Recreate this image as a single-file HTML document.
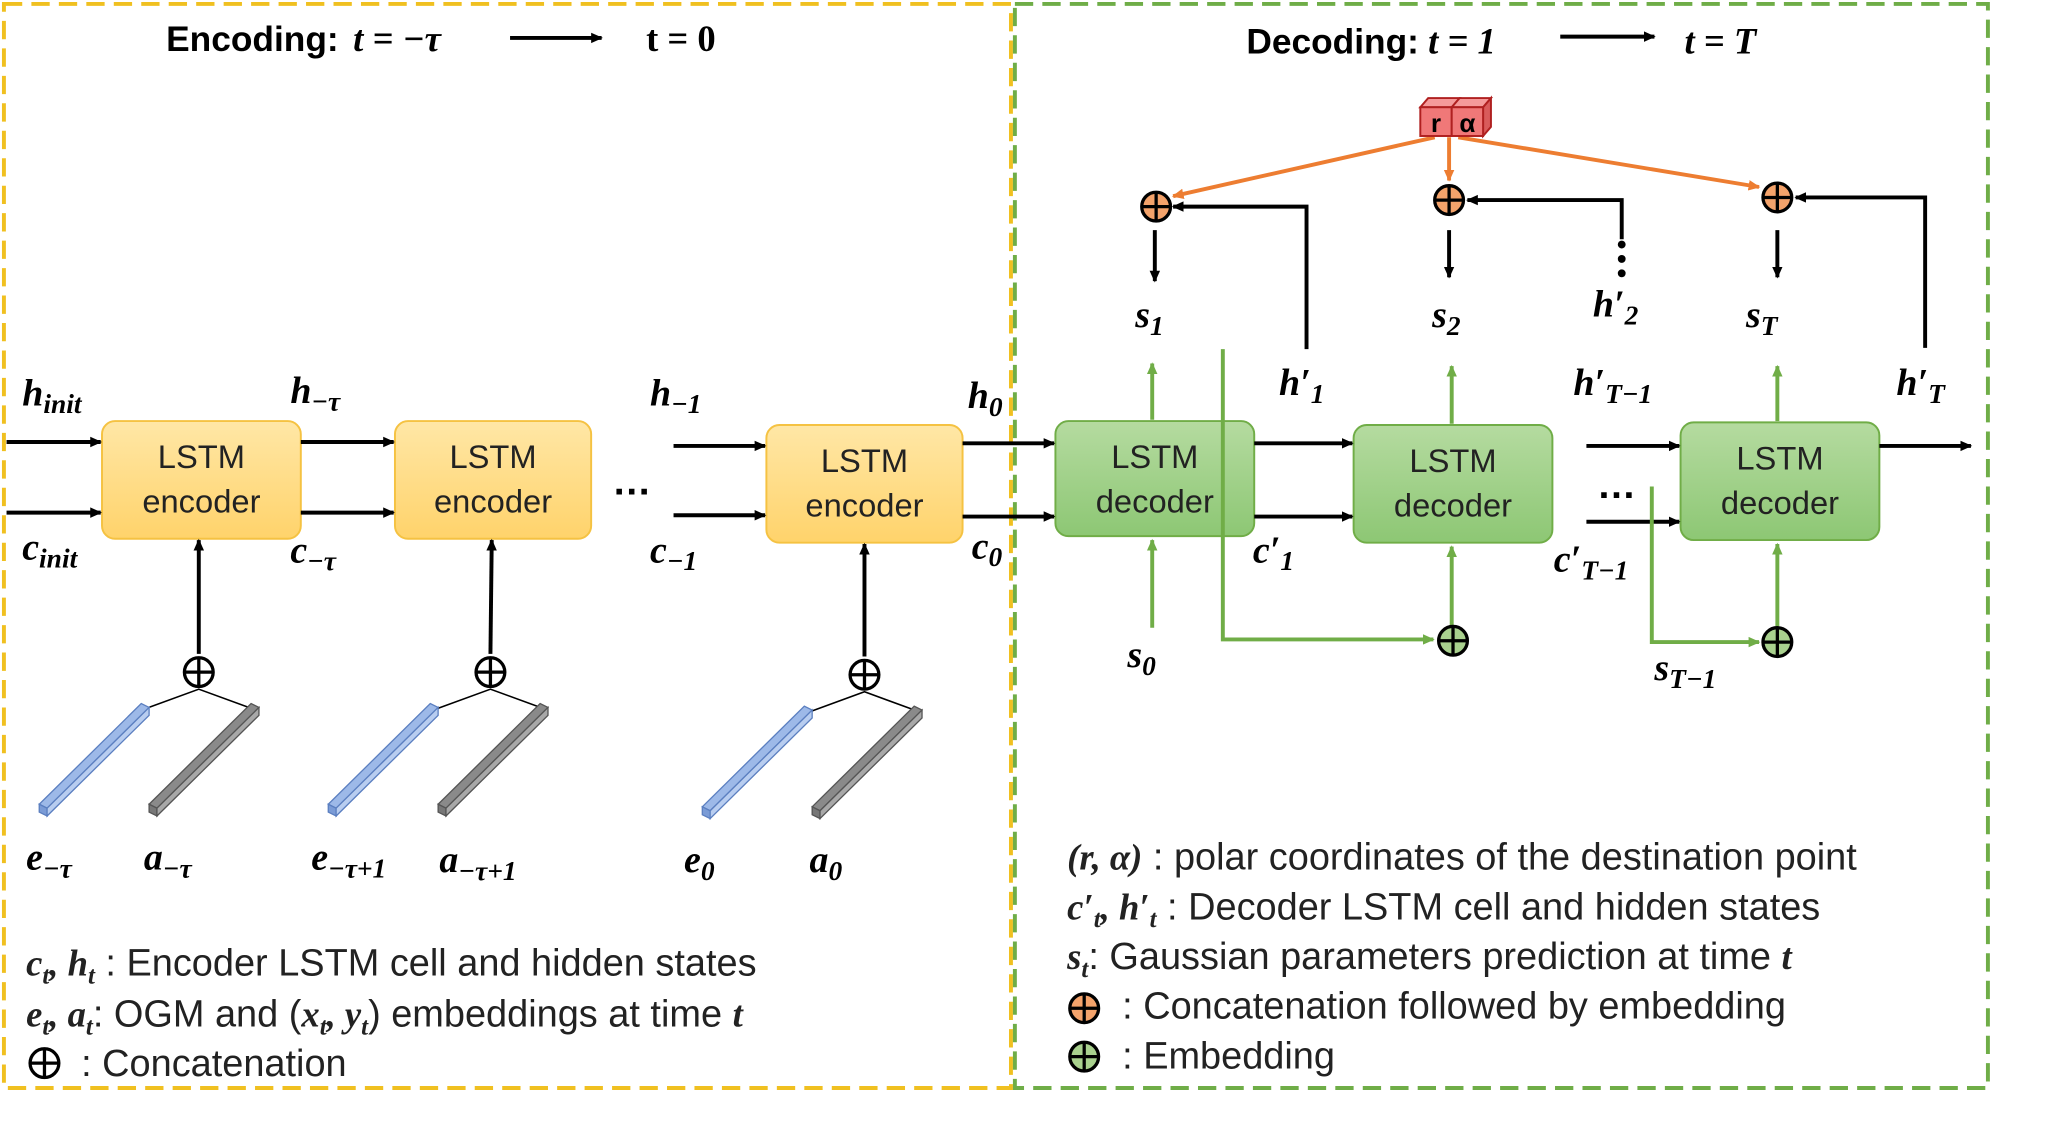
<!DOCTYPE html>
<html><head><meta charset="utf-8"><style>
html,body{margin:0;padding:0;background:#fff;}
svg{display:block;}
text{font-family:"Liberation Sans",sans-serif;}
.m,.m text,.m tspan,tspan.m{font-family:"Liberation Serif",serif;font-weight:bold;font-style:italic;}
.b{font-size:29px;fill:#222;}
</style></head><body>
<svg width="2052" height="1139" viewBox="0 0 1569 871" preserveAspectRatio="none" xmlns="http://www.w3.org/2000/svg">
<defs>
<marker id="ak" markerWidth="10" markerHeight="10" refX="8" refY="5" orient="auto" markerUnits="userSpaceOnUse"><path d="M0,1 L9,5 L0,9z" fill="#000"/></marker>
<marker id="ag" markerWidth="10" markerHeight="10" refX="8" refY="5" orient="auto" markerUnits="userSpaceOnUse"><path d="M0,1 L9,5 L0,9z" fill="#70AD47"/></marker>
<marker id="ao" markerWidth="10" markerHeight="10" refX="8" refY="5" orient="auto" markerUnits="userSpaceOnUse"><path d="M0,1 L9,5 L0,9z" fill="#ED7D31"/></marker>
<linearGradient id="gy" x1="0" y1="0" x2="0" y2="1"><stop offset="0" stop-color="#FFE7A6"/><stop offset="1" stop-color="#FFD36B"/></linearGradient>
<linearGradient id="gg" x1="0" y1="0" x2="0" y2="1"><stop offset="0" stop-color="#B5DBA0"/><stop offset="1" stop-color="#8DC774"/></linearGradient>
<g id="bb"><polygon points="30,615 108,538 114,541 36,618" fill="#9DB9E8" stroke="#5B7FC0"/><polygon points="30,615 36,618 36,624 30,621" fill="#7A9BD6" stroke="#5B7FC0"/><polygon points="36,618 114,541 114,547 36,624" fill="#B8CDF0" stroke="#5B7FC0"/></g>
<g id="gb"><polygon points="30,615 108,538 114,541 36,618" fill="#8A8A8A" stroke="#555"/><polygon points="30,615 36,618 36,624 30,621" fill="#777" stroke="#555"/><polygon points="36,618 114,541 114,547 36,624" fill="#A8A8A8" stroke="#555"/></g>
<g id="pk"><circle r="11" fill="#fff" stroke="#000" stroke-width="2.5"/><path d="M-11,0H11M0,-11V11" stroke="#000" stroke-width="2.5"/></g>
<g id="po"><circle r="11" fill="#F4A36B" stroke="#000" stroke-width="2.5"/><path d="M-11,0H11M0,-11V11" stroke="#000" stroke-width="2.5"/></g>
<g id="pg"><circle r="11" fill="#A9D18E" stroke="#000" stroke-width="2.5"/><path d="M-11,0H11M0,-11V11" stroke="#000" stroke-width="2.5"/></g>
</defs>
<rect x="3" y="3" width="770" height="829" fill="none" stroke="#F0C020" stroke-width="3" stroke-dasharray="14,7"/>
<rect x="776" y="3" width="744" height="829" fill="none" stroke="#6FAD47" stroke-width="3" stroke-dasharray="14,7"/>
<text x="127" y="39" font-size="27" font-weight="bold">Encoding:</text>
<text x="270" y="39" font-size="28" class="m">t = −τ</text>
<line x1="390" y1="29" x2="460" y2="29" stroke="#000" stroke-width="3" marker-end="url(#ak)"/>
<text x="494" y="39" font-size="28" class="m" style="font-style:normal">t = 0</text>
<text x="953" y="41" font-size="27" font-weight="bold">Decoding:</text>
<text x="1092" y="41" font-size="28" class="m">t = 1</text>
<line x1="1193" y1="28" x2="1265" y2="28" stroke="#000" stroke-width="3" marker-end="url(#ak)"/>
<text x="1288" y="41" font-size="28" class="m">t = T</text>
<g stroke="#F5C242" stroke-width="1.5" fill="url(#gy)">
<rect x="78" y="322" width="152" height="90" rx="10"/><rect x="302" y="322" width="150" height="90" rx="10"/><rect x="586" y="325" width="150" height="90" rx="10"/></g>
<g font-size="25" text-anchor="middle" fill="#222">
<text x="154" y="358">LSTM</text><text x="154" y="392">encoder</text>
<text x="377" y="358">LSTM</text><text x="377" y="392">encoder</text>
<text x="661" y="361">LSTM</text><text x="661" y="395">encoder</text></g>
<g stroke="#70AD47" stroke-width="1.5" fill="url(#gg)">
<rect x="807" y="322" width="152" height="88" rx="10"/><rect x="1035" y="325" width="152" height="90" rx="10"/><rect x="1285" y="323" width="152" height="90" rx="10"/></g>
<g font-size="25" text-anchor="middle" fill="#222">
<text x="883" y="358">LSTM</text><text x="883" y="392">decoder</text>
<text x="1111" y="361">LSTM</text><text x="1111" y="395">decoder</text>
<text x="1361" y="359">LSTM</text><text x="1361" y="393">decoder</text></g>
<g stroke="#000" stroke-width="3" marker-end="url(#ak)">
<line x1="5" y1="338" x2="77" y2="338"/><line x1="5" y1="392" x2="77" y2="392"/>
<line x1="230" y1="338" x2="301" y2="338"/><line x1="230" y1="392" x2="301" y2="392"/>
<line x1="515" y1="341" x2="585" y2="341"/><line x1="515" y1="394" x2="585" y2="394"/>
<line x1="736" y1="339" x2="806" y2="339"/><line x1="736" y1="395" x2="806" y2="395"/>
<line x1="959" y1="339" x2="1034" y2="339"/><line x1="959" y1="395" x2="1034" y2="395"/>
<line x1="1213" y1="341" x2="1284" y2="341"/><line x1="1213" y1="399" x2="1284" y2="399"/>
<line x1="1437" y1="341" x2="1507" y2="341"/>
<line x1="152" y1="500" x2="152" y2="413"/><line x1="375" y1="500" x2="376" y2="413"/><line x1="661" y1="502" x2="661" y2="416"/>
<line x1="883" y1="176" x2="883" y2="215"/><line x1="1108" y1="176" x2="1108" y2="212"/><line x1="1359" y1="176" x2="1359" y2="212"/>
</g>
<text x="468" y="378" font-size="30" font-weight="bold">…</text>
<text x="1221" y="381" font-size="30" font-weight="bold">…</text>
<use href="#pk" x="152" y="514"/><use href="#pk" x="375" y="514"/><use href="#pk" x="661" y="516"/>
<g stroke="#000" stroke-width="1.2" fill="none"><path d="M111,542L152,527L193,542"/><path d="M334,542L375,527L416,542"/><path d="M620,544L661,529L702,544"/></g>
<use href="#bb"/><use href="#gb" x="84"/><use href="#bb" x="221"/><use href="#gb" x="305"/><use href="#bb" x="507" y="2"/><use href="#gb" x="591" y="2"/>
<g stroke="#70AD47" stroke-width="3" fill="none">
<line x1="881" y1="480" x2="881" y2="413" marker-end="url(#ag)"/>
<line x1="881" y1="321" x2="881" y2="278" marker-end="url(#ag)"/>
<line x1="1110" y1="324" x2="1110" y2="280" marker-end="url(#ag)"/>
<line x1="1359" y1="322" x2="1359" y2="280" marker-end="url(#ag)"/>
<line x1="1110" y1="478" x2="1110" y2="418" marker-end="url(#ag)"/>
<line x1="1359" y1="479" x2="1359" y2="416" marker-end="url(#ag)"/>
<polyline points="935,267 935,489 1096,489" marker-end="url(#ag)"/>
<polyline points="1263,372 1263,491 1345,491" marker-end="url(#ag)"/>
</g>
<use href="#pg" x="1111" y="490"/><use href="#pg" x="1359" y="491"/>
<g stroke="#000" stroke-width="3" fill="none" marker-end="url(#ak)">
<polyline points="999,267 999,158 897,158"/>
<polyline points="1240,183 1240,153 1122,153"/>
<polyline points="1472,266 1472,151 1373,151"/>
</g>
<g fill="#000"><circle cx="1240" cy="187" r="3"/><circle cx="1240" cy="198" r="3"/><circle cx="1240" cy="209" r="3"/></g>
<g stroke="#ED7D31" stroke-width="3" marker-end="url(#ao)">
<line x1="1097" y1="105" x2="897" y2="150"/><line x1="1108" y1="105" x2="1108" y2="138"/><line x1="1115" y1="105" x2="1345" y2="143"/></g>
<use href="#po" x="884" y="158"/><use href="#po" x="1108" y="153"/><use href="#po" x="1359" y="151"/>
<g stroke="#B02020" stroke-width="1.5">
<polygon points="1086,82 1092,75 1116,75 1110,82" fill="#F59A9A"/><polygon points="1110,82 1116,75 1140,75 1134,82" fill="#F59A9A"/>
<polygon points="1134,82 1140,75 1140,97 1134,104" fill="#D95B5B"/>
<rect x="1086" y="82" width="24" height="22" fill="#F07878"/><rect x="1110" y="82" width="24" height="22" fill="#F07878"/></g>
<text x="1098" y="101" font-size="20" font-weight="bold" text-anchor="middle">r</text>
<text x="1122" y="101" font-size="20" font-weight="bold" text-anchor="middle">α</text>
<g class="m" font-size="29">
<text x="17" y="310">h<tspan font-size="21" dy="6">init</tspan></text>
<text x="17" y="428">c<tspan font-size="21" dy="6">init</tspan></text>
<text x="222" y="308">h<tspan font-size="21" dy="6">−τ</tspan></text>
<text x="222" y="430">c<tspan font-size="21" dy="6">−τ</tspan></text>
<text x="497" y="310">h<tspan font-size="21" dy="6">−1</tspan></text>
<text x="497" y="430">c<tspan font-size="21" dy="6">−1</tspan></text>
<text x="740" y="312">h<tspan font-size="21" dy="6">0</tspan></text>
<text x="743" y="427">c<tspan font-size="21" dy="6">0</tspan></text>
<text x="20" y="665">e<tspan font-size="21" dy="6">−τ</tspan></text>
<text x="110" y="665">a<tspan font-size="21" dy="6">−τ</tspan></text>
<text x="238" y="665">e<tspan font-size="21" dy="6">−τ+1</tspan></text>
<text x="336" y="667">a<tspan font-size="21" dy="6">−τ+1</tspan></text>
<text x="523" y="667">e<tspan font-size="21" dy="6">0</tspan></text>
<text x="619" y="667">a<tspan font-size="21" dy="6">0</tspan></text>
<text x="868" y="250">s<tspan font-size="21" dy="6">1</tspan></text>
<text x="1095" y="250">s<tspan font-size="21" dy="6">2</tspan></text>
<text x="1335" y="250">s<tspan font-size="21" dy="6">T</tspan></text>
<text x="1218" y="242">h′<tspan font-size="21" dy="6">2</tspan></text>
<text x="978" y="302">h′<tspan font-size="21" dy="6">1</tspan></text>
<text x="1203" y="302">h′<tspan font-size="21" dy="6">T−1</tspan></text>
<text x="1450" y="302">h′<tspan font-size="21" dy="6">T</tspan></text>
<text x="958" y="430">c′<tspan font-size="21" dy="6">1</tspan></text>
<text x="1188" y="437">c′<tspan font-size="21" dy="6">T−1</tspan></text>
<text x="862" y="510">s<tspan font-size="21" dy="6">0</tspan></text>
<text x="1265" y="520">s<tspan font-size="21" dy="6">T−1</tspan></text>
</g>
<g class="b">
<text x="20" y="746"><tspan class="m" font-size="28">c<tspan font-size="19" dy="6">t</tspan><tspan dy="-6">, h</tspan><tspan font-size="19" dy="6">t</tspan></tspan><tspan dy="-6"> : Encoder LSTM cell and hidden states</tspan></text>
<text x="20" y="785"><tspan class="m" font-size="28">e<tspan font-size="19" dy="6">t</tspan><tspan dy="-6">, a</tspan><tspan font-size="19" dy="6">t</tspan></tspan><tspan dy="-6">: OGM and (</tspan><tspan class="m" font-size="28">x<tspan font-size="19" dy="6">t</tspan><tspan dy="-6">, y</tspan><tspan font-size="19" dy="6">t</tspan></tspan><tspan dy="-6">) embeddings  at time </tspan><tspan class="m" font-size="28">t</tspan></text>
<text x="62" y="823">:  Concatenation</text>
<text x="816" y="665"><tspan class="m" font-size="28">(r, α)</tspan> : polar coordinates of the destination point</text>
<text x="816" y="703"><tspan class="m" font-size="28">c′<tspan font-size="19" dy="6">t</tspan><tspan dy="-6">, h′</tspan><tspan font-size="19" dy="6">t</tspan></tspan><tspan dy="-6"> : Decoder LSTM cell and hidden states</tspan></text>
<text x="816" y="741"><tspan class="m" font-size="28">s<tspan font-size="19" dy="6">t</tspan></tspan><tspan dy="-6">: Gaussian parameters prediction at time </tspan><tspan class="m" font-size="28">t</tspan></text>
<text x="858" y="779">:  Concatenation followed by embedding</text>
<text x="858" y="817">:  Embedding</text>
</g>
<use href="#pk" x="34" y="813"/><use href="#po" x="829" y="771"/><use href="#pg" x="829" y="808"/>
</svg>
</body></html>
